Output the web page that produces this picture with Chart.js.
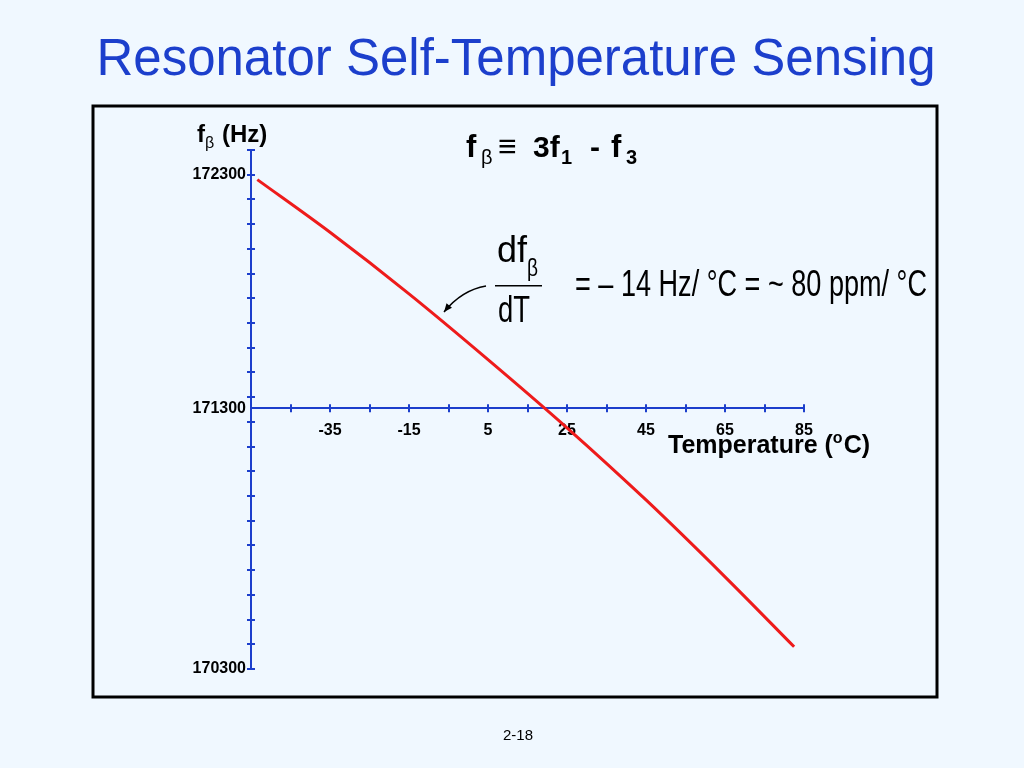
<!DOCTYPE html>
<html lang="en">
<head>
    <meta charset="UTF-8" />
    <title>Resonator Self-Temperature Sensing</title>
    <script src="https://cdn.jsdelivr.net/npm/chart.js"></script>
    <style>
        body { margin: 0; background: #f0f8ff; }
        #wrap { width: 1024px; height: 768px; }
    </style>
</head>
<body>
    <div id="wrap">
        <canvas id="slideChart" width="1024" height="768"></canvas>
    </div>

    <script>
    // Data
    const tempC  = [-53.4, -35, -15, 5, 25, 45, 65, 82.5];
    const freqHz = [172280, 172067, 171818, 171552, 171276, 170984, 170673, 170390];

    // Temperature axis: a tick every 10 C, labels every 20 C
    const xTickValues = [-55, -45, -35, -25, -15, -5, 5, 15, 25, 35, 45, 55, 65, 75, 85];
    const xTickLabels = ['-35', '-15', '5', '25', '45', '65', '85'];

    // Frequency axis: a tick every 100 Hz
    const yTickValues = [];
    for (let v = 170300; v <= 172400; v += 100) yTickValues.push(v);
    // the temperature axis is drawn at this height of the frequency scale, labelled 171300
    const freqAxisCross = 171355;
    const yLabelValues = [170300, freqAxisCross, 172300];
    const yLabelTexts  = ['170300', '171300', '172300'];

    const axisBlue = '#1c3fcc';
    const lineRed = '#ee1b1b';
    const sans = '"Liberation Sans", Arial, sans-serif';

    // draw a row of text pieces one after another
    function drawRuns(ctx, x, y, runs) {
        runs.forEach(r => {
            ctx.font = r.font;
            const px = r.x !== undefined ? r.x : x;
            ctx.fillText(r.text, px, y + (r.dy || 0));
            x = px + ctx.measureText(r.text).width + (r.gap || 0);
        });
        return x;
    }

    // draw text squeezed or stretched to a given width
    function fitText(ctx, text, font, x, y, width) {
        ctx.font = font;
        const w = ctx.measureText(text).width;
        ctx.save();
        ctx.translate(x, y);
        ctx.scale(width / w, 1);
        ctx.fillText(text, 0, 0);
        ctx.restore();
    }

    const slidePlugin = {
        id: 'slide',
        beforeDraw(chart) {
            const ctx = chart.ctx;
            ctx.save();
            ctx.fillStyle = '#f0f8ff';
            ctx.fillRect(0, 0, chart.width, chart.height);

            // title
            ctx.fillStyle = '#1c3fcc';
            ctx.font = '51px ' + sans;
            ctx.textAlign = 'center';
            ctx.textBaseline = 'alphabetic';
            ctx.fillText('Resonator Self-Temperature Sensing', 516, 75);

            // frame
            ctx.strokeStyle = '#000';
            ctx.lineWidth = 3;
            ctx.strokeRect(93, 106, 844, 591);

            // page number
            ctx.fillStyle = '#000';
            ctx.font = '15px ' + sans;
            ctx.fillText('2-18', 518, 740);
            ctx.restore();
        },
        beforeDatasetsDraw(chart) {
            const ctx = chart.ctx;
            const xs = chart.scales.x, ys = chart.scales.y;
            const x0 = xs.left;
            const y0 = ys.getPixelForValue(freqAxisCross);
            ctx.save();
            ctx.strokeStyle = axisBlue;
            ctx.lineWidth = 2;
            ctx.beginPath();
            xTickValues.forEach(v => {
                const px = Math.round(xs.getPixelForValue(v));
                ctx.moveTo(px, y0 - 4);
                ctx.lineTo(px, y0 + 4);
            });
            yTickValues.forEach(v => {
                const py = Math.round(ys.getPixelForValue(v));
                ctx.moveTo(x0 - 4, py);
                ctx.lineTo(x0 + 4, py);
            });
            ctx.stroke();
            ctx.restore();
        },
        afterDraw(chart) {
            const ctx = chart.ctx;
            ctx.save();
            ctx.fillStyle = '#000';
            ctx.textAlign = 'left';
            ctx.textBaseline = 'alphabetic';

            // axis titles
            drawRuns(ctx, 197, 142, [
                { text: 'f', font: 'bold 24px ' + sans },
                { text: '\u03B2', font: '16px ' + sans, dy: 6 },
                { text: '(Hz)', font: 'bold 24px ' + sans, x: 222 }
            ]);
            drawRuns(ctx, 668, 453, [
                { text: 'Temperature (', font: 'bold 25px ' + sans },
                { text: 'o', font: 'bold 16px ' + sans, dy: -10, gap: 1 },
                { text: 'C)', font: 'bold 25px ' + sans }
            ]);

            // definition
            drawRuns(ctx, 466, 157, [
                { text: 'f', font: 'bold 31px ' + sans, x: 466 },
                { text: '\u03B2', font: '20px ' + sans, dy: 7, x: 481 },
                { text: '\u2261', font: 'bold 32px ' + sans, x: 498 },
                { text: '3f', font: 'bold 30px ' + sans, x: 533 },
                { text: '1', font: 'bold 20px ' + sans, dy: 7, x: 561 },
                { text: '-', font: 'bold 30px ' + sans, x: 590 },
                { text: 'f', font: 'bold 31px ' + sans, x: 611 },
                { text: '3', font: 'bold 20px ' + sans, dy: 7, x: 626 }
            ]);

            // slope formula (narrow type)
            fitText(ctx, 'df', '36px ' + sans, 497, 262, 30);
            fitText(ctx, '\u03B2', '24px ' + sans, 527, 276, 11);
            fitText(ctx, 'dT', '36px ' + sans, 498, 322, 32);
            ctx.fillRect(495, 285, 47, 1.5);
            fitText(ctx, '= \u2013 14 Hz/ \u00B0C = ~ 80 ppm/ \u00B0C', '37px ' + sans, 575, 296, 352);

            // arrow to the curve
            const a = [486, 286], c = [462, 290], b = [444, 312];
            ctx.strokeStyle = '#000';
            ctx.lineWidth = 1.5;
            ctx.beginPath();
            ctx.moveTo(a[0], a[1]);
            ctx.quadraticCurveTo(c[0], c[1], b[0], b[1]);
            ctx.stroke();
            const ang = Math.atan2(b[1] - c[1], b[0] - c[0]);
            ctx.beginPath();
            ctx.moveTo(b[0], b[1]);
            ctx.lineTo(b[0] - 9 * Math.cos(ang - 0.4), b[1] - 9 * Math.sin(ang - 0.4));
            ctx.lineTo(b[0] - 9 * Math.cos(ang + 0.4), b[1] - 9 * Math.sin(ang + 0.4));
            ctx.closePath();
            ctx.fill();
            ctx.restore();
        }
    };

    const tickFont = { family: sans, size: 16, weight: 'bold' };

    const ctx = document.getElementById('slideChart').getContext('2d');
    const chart = new Chart(ctx, {
        type: 'line',
        data: {
            datasets: [{
                data: tempC.map((t, i) => ({ x: t, y: freqHz[i] })),
                borderColor: lineRed,
                borderWidth: 3,
                pointRadius: 0,
                cubicInterpolationMode: 'monotone',
                fill: false
            }]
        },
        options: {
            responsive: false,
            animation: false,
            devicePixelRatio: 1,
            layout: { padding: { left: 191, right: 220, top: 150, bottom: 99 } },
            plugins: {
                legend: { display: false },
                tooltip: { enabled: false }
            },
            scales: {
                x: {
                    type: 'linear',
                    min: -55,
                    max: 85,
                    position: { y: freqAxisCross },
                    afterBuildTicks(scale) {
                        scale.ticks = xTickValues.map(v => ({ value: v }));
                    },
                    ticks: {
                        autoSkip: false,
                        maxRotation: 0,
                        padding: 13,
                        color: '#000',
                        font: tickFont,
                        callback(v) {
                            const s = String(v);
                            return xTickLabels.includes(s) ? s : '';
                        }
                    },
                    grid: { display: false, drawTicks: false },
                    border: { display: true, color: axisBlue, width: 2 }
                },
                y: {
                    type: 'linear',
                    min: 170300,
                    max: 172400,
                    afterFit(scale) { scale.width = 60; },
                    afterBuildTicks(scale) {
                        scale.ticks = yTickValues.concat([freqAxisCross])
                            .sort((p, q) => p - q)
                            .map(v => ({ value: v }));
                    },
                    ticks: {
                        autoSkip: false,
                        padding: 5,
                        color: '#000',
                        font: tickFont,
                        callback(v) {
                            const i = yLabelValues.indexOf(v);
                            return i >= 0 ? yLabelTexts[i] : '';
                        }
                    },
                    grid: { display: false, drawTicks: false },
                    border: { display: true, color: axisBlue, width: 2 }
                }
            }
        },
        plugins: [slidePlugin]
    });
    </script>
</body>
</html>
